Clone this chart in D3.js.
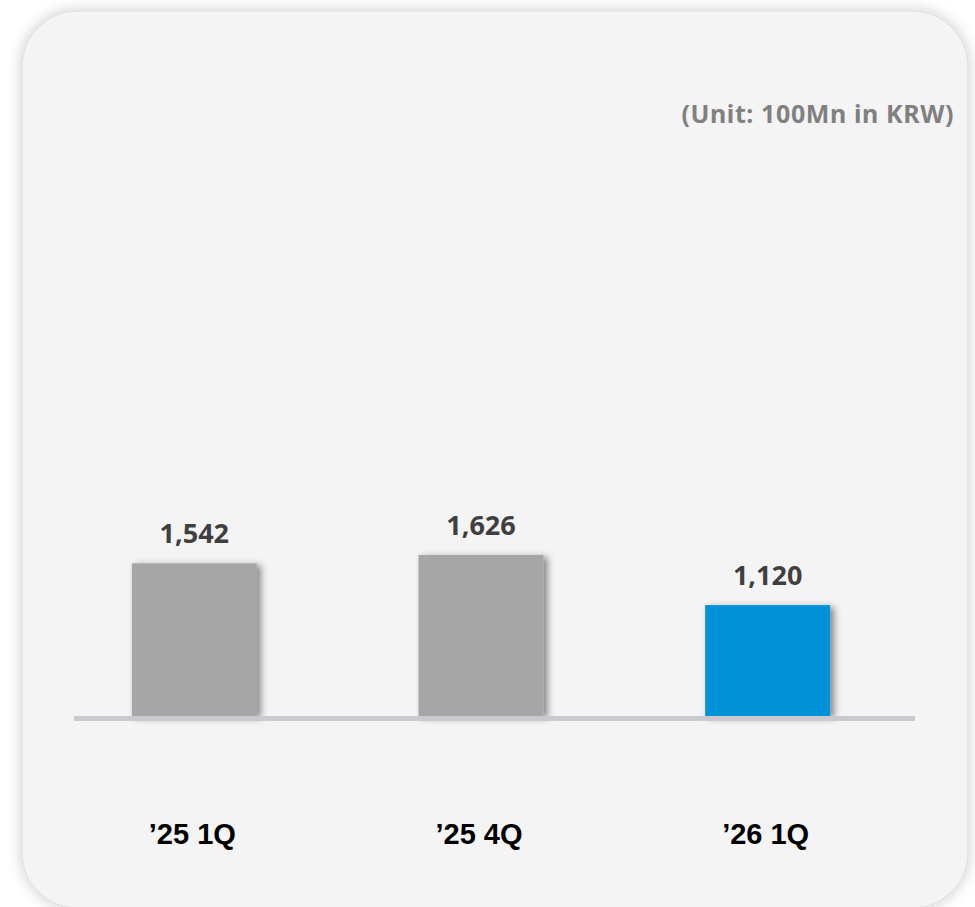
<html>
<head>
    <style>
        body {
            margin: 0;
            background-color: #ffffff;
            font-family: "Noto Sans", Arial, sans-serif;
        }
        svg {
            display: block;
        }
    </style>
    <script src="https://cdn.jsdelivr.net/npm/d3@7"></script>
</head>
<body>
    <div class="chart"></div>

  <script type="text/javascript">

    // data
    var quarters = ["\u201925 1Q", "\u201925 4Q", "\u201926 1Q"];
    var amounts = [1542, 1626, 1120];
    var barColors = ["#a6a6a6", "#a6a6a6", "#0092d8"];
    var unitLabel = "(Unit: 100Mn in KRW)";

    var width = 975,
        height = 907,
        baseline = 716;

    var svg = d3.select(".chart")
                .append("svg")
                .attr("width", width)
                .attr("height", height);

    var defs = svg.append("defs");

    //// soft shadow round the card
    var cardShadow = defs.append("filter")
        .attr("id", "cardShadow")
        .attr("x", "-5%").attr("y", "-5%")
        .attr("width", "110%").attr("height", "110%");
    cardShadow.append("feDropShadow")
        .attr("dx", 0).attr("dy", 0)
        .attr("stdDeviation", 7)
        .attr("flood-color", "#000")
        .attr("flood-opacity", 0.2);

    //// shadow on the bars (right / bottom)
    var barShadow = defs.append("filter")
        .attr("id", "barShadow")
        .attr("x", "-10%").attr("y", "-10%")
        .attr("width", "130%").attr("height", "130%");
    barShadow.append("feDropShadow")
        .attr("dx", 4).attr("dy", 2)
        .attr("stdDeviation", 3.5)
        .attr("flood-color", "#000")
        .attr("flood-opacity", 0.45);

    // the card
    svg.append("rect")
        .attr("x", 22)
        .attr("y", 11)
        .attr("width", 946)
        .attr("height", 897)
        .attr("rx", 55)
        .attr("ry", 55)
        .attr("fill", "#f4f4f4")
        .attr("stroke", "#e2e2e2")
        .attr("stroke-width", 1.5)
        .attr("filter", "url(#cardShadow)");

    // scales
    var x = d3.scaleBand()
        .domain(quarters)
        .range([51, 911])
        .paddingInner(0.564)
        .paddingOuter(0.282);

    var y = d3.scaleLinear()
        .domain([0, 1626])
        .range([baseline, 555]);

    var data = quarters.map(function (q, i) {
        return { quarter: q, amount: amounts[i], color: barColors[i] };
    });

    //---------------------------------------------------------
    // bars
    svg.selectAll("rect.bar")
        .data(data)
        .enter().append("rect")
        .attr("class", "bar")
        .attr("x", function (d) { return x(d.quarter); })
        .attr("y", function (d) { return y(d.amount); })
        .attr("width", x.bandwidth())
        .attr("height", function (d) { return y(0) - y(d.amount); })
        .attr("fill", function (d) { return d.color; })
        .attr("filter", "url(#barShadow)");

    // base line
    svg.append("line")
        .attr("x1", 74)
        .attr("x2", 915)
        .attr("y1", baseline + 2.5)
        .attr("y2", baseline + 2.5)
        .attr("stroke", "#c9c9ce")
        .attr("stroke-width", 5);

    //// value labels above bars
    svg.selectAll("text.value")
        .data(data)
        .enter().append("text")
        .attr("class", "value")
        .attr("x", function (d) { return x(d.quarter) + x.bandwidth() / 2; })
        .attr("y", function (d) { return y(d.amount) - 20; })
        .attr("text-anchor", "middle")
        .attr("font-family", "'Noto Sans', sans-serif")
        .attr("font-weight", "bold")
        .attr("font-size", "27px")
        .attr("fill", "#3f3f3f")
        .text(function (d) { return d3.format(",")(d.amount); });

    //// category labels at the bottom
    svg.selectAll("text.name")
        .data(data)
        .enter().append("text")
        .attr("class", "name")
        .attr("x", function (d) { return x(d.quarter) + x.bandwidth() / 2 - 2; })
        .attr("y", 844)
        .attr("text-anchor", "middle")
        .attr("font-family", "'Liberation Sans', Arial, sans-serif")
        .attr("font-weight", "bold")
        .attr("font-size", "29px")
        .attr("fill", "#000")
        .text(function (d) { return d.quarter; });

    // unit note
    svg.append("text")
        .attr("x", 954)
        .attr("y", 123)
        .attr("text-anchor", "end")
        .attr("font-family", "'Noto Sans', sans-serif")
        .attr("font-weight", "bold")
        .attr("font-size", "25px")
        .attr("letter-spacing", "0.6px")
        .attr("fill", "#808080")
        .text(unitLabel);

  </script>
</body>
</html>
